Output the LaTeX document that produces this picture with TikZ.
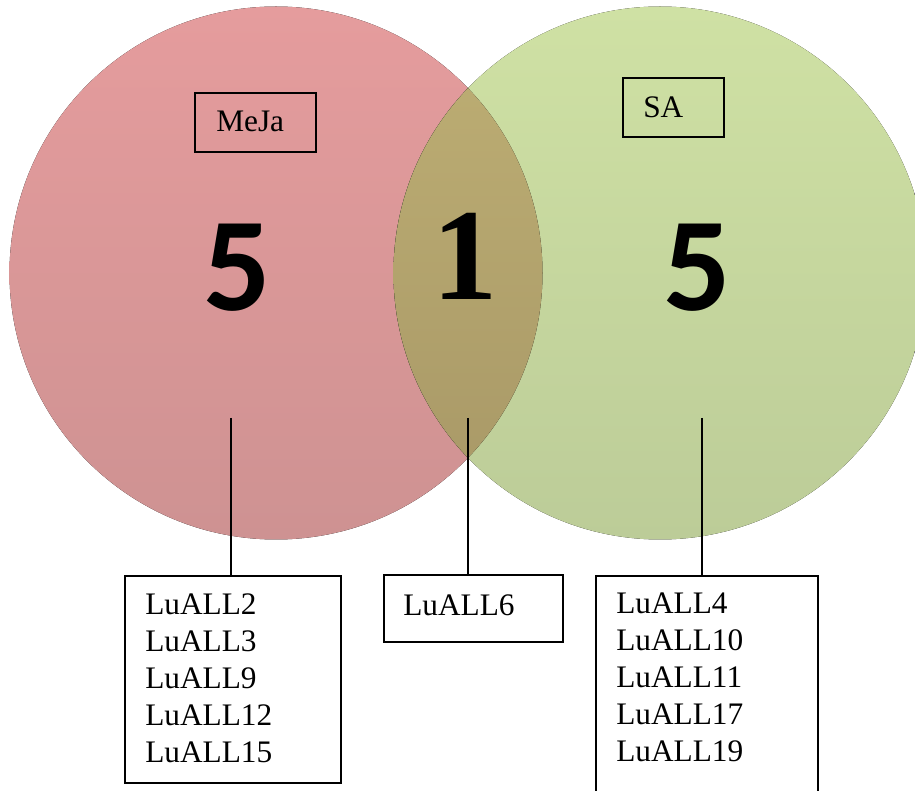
\documentclass[tikz,border=0pt]{standalone}
\usepackage{fontspec}
\setmainfont{Liberation Serif}
\newfontfamily\countfont{Carlito}[UprightFont={* Bold}]
\newcommand\pxu{0.75pt}
\begin{document}
\begin{tikzpicture}[x=0.75pt,y=-0.75pt]
\tikzset{
  outlinebox/.style={draw=black, line width=1.3pt, inner sep=0pt, anchor=north west},
  link/.style={draw=black, line width=1.7pt},
  lbl/.style={inner sep=0pt, anchor=base west, font=\fontsize{23.5}{27.75}\selectfont},
  countsans/.style={inner sep=0pt, anchor=base, font=\countfont\fontsize{100}{100}\selectfont},
  countserif/.style={inner sep=0pt, anchor=base, font=\bfseries\fontsize{98}{98}\selectfont},
}
\definecolor{redtop}{RGB}{229,156,157}
\definecolor{redbot}{RGB}{206,146,146}
\definecolor{greentop}{RGB}{207,225,164}
\definecolor{greenbot}{RGB}{188,204,152}
\definecolor{bothtop}{RGB}{190,175,116}
\definecolor{bothbot}{RGB}{167,151,102}

\useasboundingbox (0,0) rectangle (915,791);
\clip (0,0) rectangle (915,791);

% the two sets
\coordinate (cR) at (276,273);
\coordinate (cG) at (660,273);
\fill[top color=redtop, bottom color=redbot] (cR) circle[radius=266.5];
\fill[top color=greentop, bottom color=greenbot] (cG) circle[radius=266.5];
% their intersection
\begin{scope}
  \clip (cR) circle[radius=266.5];
  \fill[top color=bothtop, bottom color=bothbot] (cG) circle[radius=266.5];
\end{scope}

% set names
\node[outlinebox, minimum width=121*\pxu, minimum height=59*\pxu] (mejabox) at (194,92) {};
\node[lbl] (meja) at (216,132) {MeJa};
\node[outlinebox, minimum width=101*\pxu, minimum height=59*\pxu] (sabox) at (622,77) {};
\node[lbl] (sa) at (643,118) {SA};

% counts
\node[countsans] (nL) at (237,311) {5};
\node[countserif] (nM) at (465,300) {1};
\node[countsans] (nR) at (697,311) {5};

% member lists
\node[outlinebox, minimum width=216*\pxu, minimum height=207*\pxu] (lbox) at (124,575) {};
\node[lbl] (ltext) at (145,615) {\begin{tabular}[t]{@{}l@{}}LuALL2\\LuALL3\\LuALL9\\LuALL12\\LuALL15\end{tabular}};
\node[outlinebox, minimum width=179*\pxu, minimum height=67*\pxu] (mbox) at (383,574) {};
\node[lbl] (mtext) at (403,616) {LuALL6};
\node[outlinebox, minimum width=222*\pxu, minimum height=230*\pxu] (rbox) at (595,575) {};
\node[lbl] (rtext) at (616,614) {\begin{tabular}[t]{@{}l@{}}LuALL4\\LuALL10\\LuALL11\\LuALL17\\LuALL19\end{tabular}};

% connectors
\coordinate (lt) at (231,418);
\coordinate (mt) at (468,418);
\coordinate (rt) at (702,418);
\draw[link] (lt) -- (lt |- lbox.north);
\draw[link] (mt) -- (mt |- mbox.north);
\draw[link] (rt) -- (rt |- rbox.north);
\end{tikzpicture}
\end{document}
